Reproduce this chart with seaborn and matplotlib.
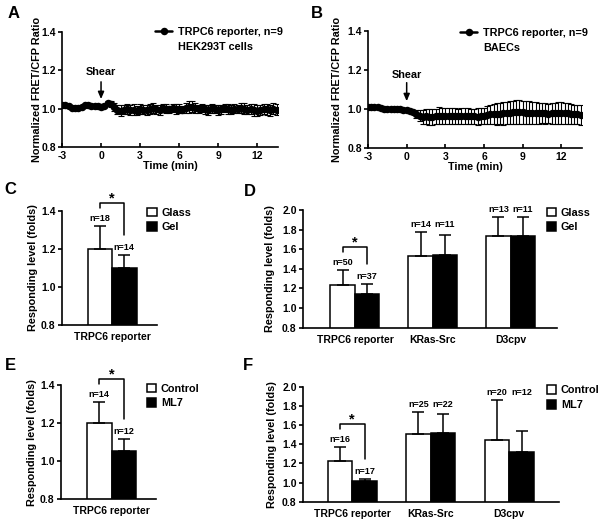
import numpy as np
import pandas as pd
import matplotlib
matplotlib.use("Agg")
import matplotlib.pyplot as plt
from matplotlib.lines import Line2D
import seaborn as sns

# ---------------- data ----------------
time_min = [-3.0, -2.75, -2.5, -2.25, -2.0, -1.75, -1.5, -1.25, -1.0, -0.75, -0.5, -0.25,
            0.0, 0.25, 0.5, 0.75, 1.0, 1.25, 1.5, 1.75, 2.0, 2.25, 2.5, 2.75, 3.0, 3.25,
            3.5, 3.75, 4.0, 4.25, 4.5, 4.75, 5.0, 5.25, 5.5, 5.75, 6.0, 6.25, 6.5, 6.75,
            7.0, 7.25, 7.5, 7.75, 8.0, 8.25, 8.5, 8.75, 9.0, 9.25, 9.5, 9.75, 10.0, 10.25,
            10.5, 10.75, 11.0, 11.25, 11.5, 11.75, 12.0, 12.25, 12.5, 12.75, 13.0, 13.25, 13.5]

hek_mean = [1.020, 1.018, 1.012, 1.005, 1.003, 1.004, 1.008, 1.018, 1.020, 1.016, 1.015, 1.012,
            1.010, 1.012, 1.030, 1.025, 1.008, 0.995, 0.990, 0.995, 0.998, 0.992, 0.995, 0.990,
            0.998, 0.995, 0.993, 0.998, 1.002, 0.996, 0.992, 1.005, 1.000, 0.996, 1.003, 0.998,
            1.000, 0.995, 1.004, 1.008, 1.010, 1.002, 0.998, 1.005, 0.996, 0.993, 1.002, 0.998,
            0.994, 0.996, 1.003, 0.999, 0.995, 1.000, 0.997, 1.002, 1.000, 0.995, 0.998, 0.994,
            0.990, 0.993, 0.999, 0.996, 0.992, 1.000, 0.995]
hek_sem = [0.006, 0.006, 0.006, 0.007, 0.007, 0.007, 0.007, 0.008, 0.008, 0.008, 0.008, 0.008,
           0.008, 0.010, 0.012, 0.015, 0.020, 0.025, 0.030, 0.025, 0.028, 0.025, 0.030, 0.025,
           0.028, 0.025, 0.025, 0.028, 0.025, 0.022, 0.025, 0.020, 0.022, 0.020, 0.022, 0.025,
           0.022, 0.020, 0.025, 0.030, 0.028, 0.025, 0.022, 0.020, 0.022, 0.025, 0.022, 0.020,
           0.025, 0.022, 0.020, 0.025, 0.022, 0.025, 0.022, 0.025, 0.028, 0.025, 0.028, 0.030,
           0.030, 0.028, 0.025, 0.030, 0.028, 0.030, 0.028]

baec_mean = [1.010, 1.010, 1.012, 1.010, 1.005, 0.998, 0.998, 1.000, 1.000, 0.998, 0.999, 0.997,
             0.995, 0.992, 0.985, 0.975, 0.965, 0.960, 0.962, 0.960, 0.958, 0.962, 0.966, 0.965,
             0.963, 0.965, 0.964, 0.963, 0.962, 0.964, 0.965, 0.963, 0.962, 0.962, 0.961, 0.963,
             0.965, 0.968, 0.972, 0.974, 0.975, 0.976, 0.978, 0.980, 0.982, 0.983, 0.984, 0.984,
             0.983, 0.982, 0.981, 0.980, 0.979, 0.978, 0.978, 0.977, 0.976, 0.977, 0.978, 0.979,
             0.980, 0.979, 0.977, 0.975, 0.973, 0.972, 0.970]
baec_sem = [0.006, 0.006, 0.006, 0.006, 0.006, 0.006, 0.006, 0.006, 0.006, 0.006, 0.006, 0.006,
            0.006, 0.008, 0.012, 0.020, 0.028, 0.035, 0.038, 0.040, 0.040, 0.040, 0.042, 0.040,
            0.040, 0.042, 0.040, 0.042, 0.040, 0.040, 0.042, 0.040, 0.040, 0.040, 0.042, 0.040,
            0.042, 0.045, 0.048, 0.050, 0.055, 0.055, 0.058, 0.058, 0.060, 0.060, 0.060, 0.060,
            0.060, 0.058, 0.058, 0.056, 0.055, 0.054, 0.052, 0.052, 0.050, 0.052, 0.054, 0.055,
            0.055, 0.054, 0.052, 0.050, 0.050, 0.050, 0.050]

c_groups = ["Glass", "Gel"]
c_values = [1.20, 1.10]
c_err = [0.118, 0.065]
c_n = [18, 14]

d_categories = ["TRPC6 reporter", "KRas-Src", "D3cpv"]
d_glass = [1.24, 1.53, 1.73]
d_glass_err = [0.15, 0.25, 0.20]
d_glass_n = [50, 14, 13]
d_gel = [1.14, 1.54, 1.735]
d_gel_err = [0.105, 0.21, 0.19]
d_gel_n = [37, 11, 11]

e_groups = ["Control", "ML7"]
e_values = [1.20, 1.054]
e_err = [0.11, 0.06]
e_n = [14, 12]

f_categories = ["TRPC6 reporter", "KRas-Src", "D3cpv"]
f_control = [1.226, 1.507, 1.445]
f_control_err = [0.15, 0.23, 0.42]
f_control_n = [16, 25, 20]
f_ml7 = [1.012, 1.52, 1.323]
f_ml7_err = [0.022, 0.19, 0.21]
f_ml7_n = [17, 22, 12]

# ---------------- style ----------------
sns.set_theme(style="ticks")
plt.rcParams["font.family"] = ["Liberation Sans", "DejaVu Sans"]
plt.rcParams["font.weight"] = "bold"
plt.rcParams["axes.labelweight"] = "bold"
for k in ["text.color", "axes.labelcolor", "xtick.color", "ytick.color", "axes.edgecolor"]:
    plt.rcParams[k] = "black"

FS = 7.8
TICK_FS = 7.5
N_FS = 6.5

fig = plt.figure(figsize=(6, 5.2), dpi=100)


def px_axes(l, t, r, b):
    return fig.add_axes([l / 600, 1 - b / 520, (r - l) / 600, (b - t) / 520])


def style_axes(ax):
    sns.despine(ax=ax)
    for s in ["left", "bottom"]:
        ax.spines[s].set_linewidth(1.2)
        ax.spines[s].set_color("black")
    ax.tick_params(axis="y", direction="out", length=3, width=1.2, labelsize=TICK_FS, pad=1.5)


# ---------------- time-series panels ----------------
def time_panel(ax, mean, sem, line1, line2, shear_text_y, arrow_top, arrow_tip, label_x):
    sns.lineplot(x=time_min, y=mean, ax=ax, color="black", marker="o", markersize=5.4,
                 markeredgewidth=0, linewidth=1.8, errorbar=None, label=line1)
    ax.errorbar(time_min, mean, yerr=sem, fmt="none", ecolor="black", elinewidth=0.8,
                capsize=2.2, capthick=0.8)
    ax.set_xlim(-3, 13.6)
    ax.set_ylim(0.8, 1.4)
    ax.set_xticks([-3, 0, 3, 6, 9, 12])
    ax.set_xticklabels(["-3", "0", "3", "6", "9", "12"])
    ax.set_yticks([0.8, 1.0, 1.2, 1.4])
    ax.set_yticklabels(["0.8", "1.0", "1.2", "1.4"])
    style_axes(ax)
    ax.tick_params(axis="x", direction="in", length=3, width=1.2, labelsize=TICK_FS, pad=3)
    ax.set_xlabel("Time (min)", fontsize=FS, labelpad=0)
    ax.set_ylabel("Normalized FRET/CFP Ratio", fontsize=FS)
    ax.yaxis.set_label_coords(label_x, 0.5)
    ax.text(0, shear_text_y, "Shear", ha="center", va="center", fontsize=FS)
    ax.annotate("", xy=(0, arrow_tip), xytext=(0, arrow_top),
                arrowprops=dict(arrowstyle="-|>,head_length=0.35,head_width=0.15",
                                color="black", lw=1.1, shrinkA=0, shrinkB=0))
    h, l = ax.get_legend_handles_labels()
    h = [h[0], Line2D([], [], linestyle="none")]
    ax.legend(h, [line1, line2], loc="upper right", bbox_to_anchor=(1.0, 1.04),
              frameon=False, fontsize=FS, handlelength=1.6, handletextpad=0.5,
              labelspacing=0.45, borderpad=0, borderaxespad=0)


axA = px_axes(62, 32, 278, 147)
axB = px_axes(368, 31, 582, 148)
time_panel(axA, hek_mean, hek_sem, "TRPC6 reporter, n=9", "HEK293T cells", 1.193, 1.140, 1.050, -0.093)
time_panel(axB, baec_mean, baec_sem, "TRPC6 reporter, n=9", "BAECs", 1.174, 1.135, 1.040, -0.12)
axA.get_legend().set_bbox_to_anchor((155 / 600, 1 - 27 / 520), transform=fig.transFigure)
axA.get_legend()._loc = 2
axB.get_legend().set_bbox_to_anchor((460 / 600, 1 - 28 / 520), transform=fig.transFigure)
axB.get_legend()._loc = 2


# ---------------- bar panels ----------------
def bar_panel(ax, categories, groups, vals1, vals2, err1, err2, n1, n2, ylim, yticks,
              xlim, legend_xy, label_x):
    df = pd.DataFrame({
        "cat": list(categories) * 2,
        "grp": [groups[0]] * len(categories) + [groups[1]] * len(categories),
        "val": list(vals1) + list(vals2),
    })
    sns.barplot(data=df, x="cat", y="val", hue="grp", order=list(categories),
                hue_order=list(groups), palette={groups[0]: "white", groups[1]: "black"},
                edgecolor="black", linewidth=1.1, width=0.63, errorbar=None, ax=ax,
                legend=True)
    ax.set_ylim(*ylim)
    ax.set_xlim(*xlim)
    ax.set_yticks(yticks)
    ax.set_yticklabels([f"{t:.1f}" for t in yticks])
    style_axes(ax)
    ax.tick_params(axis="x", length=0, labelsize=TICK_FS, pad=5)
    ax.set_xlabel("")
    ax.set_ylabel("Responding level (folds)", fontsize=FS)
    ax.yaxis.set_label_coords(label_x, 0.5)

    tops = []
    centers = []
    for cont, errs in zip(ax.containers[:2], [err1, err2]):
        xs = [p.get_x() + p.get_width() / 2 for p in cont.patches]
        ys = [p.get_height() for p in cont.patches]
        ax.errorbar(xs, ys, yerr=[np.zeros(len(errs)), errs], fmt="none", ecolor="black",
                    elinewidth=1.1, capsize=4, capthick=1.1, zorder=1)
        centers.append(xs)
        tops.append([y + e for y, e in zip(ys, errs)])

    h_px = ax.get_position().height * 520
    per_px = (ylim[1] - ylim[0]) / h_px

    for i in range(len(categories)):
        t1, t2 = tops[0][i], tops[1][i]
        if i == 0:
            y1, y2 = t1, t2
        else:
            y1 = y2 = max(t1, t2)
        ax.text(centers[0][i], y1 + 3 * per_px, f"n={n1[i]}", ha="center", va="bottom",
                fontsize=N_FS, clip_on=False)
        ax.text(centers[1][i], y2 + 3 * per_px, f"n={n2[i]}", ha="center", va="bottom",
                fontsize=N_FS, clip_on=False)

    xl, xr = centers[0][0], centers[1][0]
    t1, t2 = tops[0][0], tops[1][0]
    ytop = t1 + 23 * per_px
    ax.plot([xl, xl, xr, xr], [t1 + 18 * per_px, ytop, ytop, t2 + 20 * per_px],
            color="black", lw=1.1, clip_on=False)
    ax.text((xl + xr) / 2, ytop + 0.5 * per_px, "*", ha="center", va="baseline",
            fontsize=10.5, clip_on=False)

    h, l = ax.get_legend_handles_labels()
    ax.get_legend().remove()
    ax.legend(h, l, loc="upper left", bbox_to_anchor=(legend_xy[0] / 600, 1 - legend_xy[1] / 520),
              bbox_transform=fig.transFigure, frameon=False, fontsize=FS,
              handlelength=0.9, handleheight=0.9, handletextpad=0.4, labelspacing=0.4,
              borderpad=0, borderaxespad=0)


axC = px_axes(61.7, 210.7, 157, 325)
axD = px_axes(303, 210, 557, 327.7)
axE = px_axes(61, 385, 156, 499.3)
axF = px_axes(303, 386.7, 558.7, 501.7)

bar_panel(axC, ["TRPC6 reporter"], c_groups, [c_values[0]], [c_values[1]], [c_err[0]], [c_err[1]],
          [c_n[0]], [c_n[1]], (0.8, 1.4), [0.8, 1.0, 1.2, 1.4], (-0.647, 0.578), (147, 207.5), -0.25)
bar_panel(axD, d_categories, c_groups, d_glass, d_gel, d_glass_err, d_gel_err, d_glass_n, d_gel_n,
          (0.8, 2.0), [0.8, 1.0, 1.2, 1.4, 1.6, 1.8, 2.0], (-0.668, 2.596), (546.7, 207.5), -0.11)
bar_panel(axE, ["TRPC6 reporter"], e_groups, [e_values[0]], [e_values[1]], [e_err[0]], [e_err[1]],
          [e_n[0]], [e_n[1]], (0.8, 1.4), [0.8, 1.0, 1.2, 1.4], (-0.649, 0.57), (146.7, 383.5), -0.25)
bar_panel(axF, f_categories, e_groups, f_control, f_ml7, f_control_err, f_ml7_err, f_control_n,
          f_ml7_n, (0.8, 2.0), [0.8, 1.0, 1.2, 1.4, 1.6, 1.8, 2.0], (-0.628, 2.63), (546.7, 385), -0.103)

# ---------------- panel letters ----------------
for letter, x, y in [("A", 14, 14), ("B", 317, 13), ("C", 10, 190), ("D", 250, 191),
                     ("E", 10, 365), ("F", 248, 365)]:
    fig.text(x / 600, 1 - y / 520, letter, ha="center", va="center", fontsize=12,
             fontweight="bold")

fig.savefig("out.png", dpi=100)
